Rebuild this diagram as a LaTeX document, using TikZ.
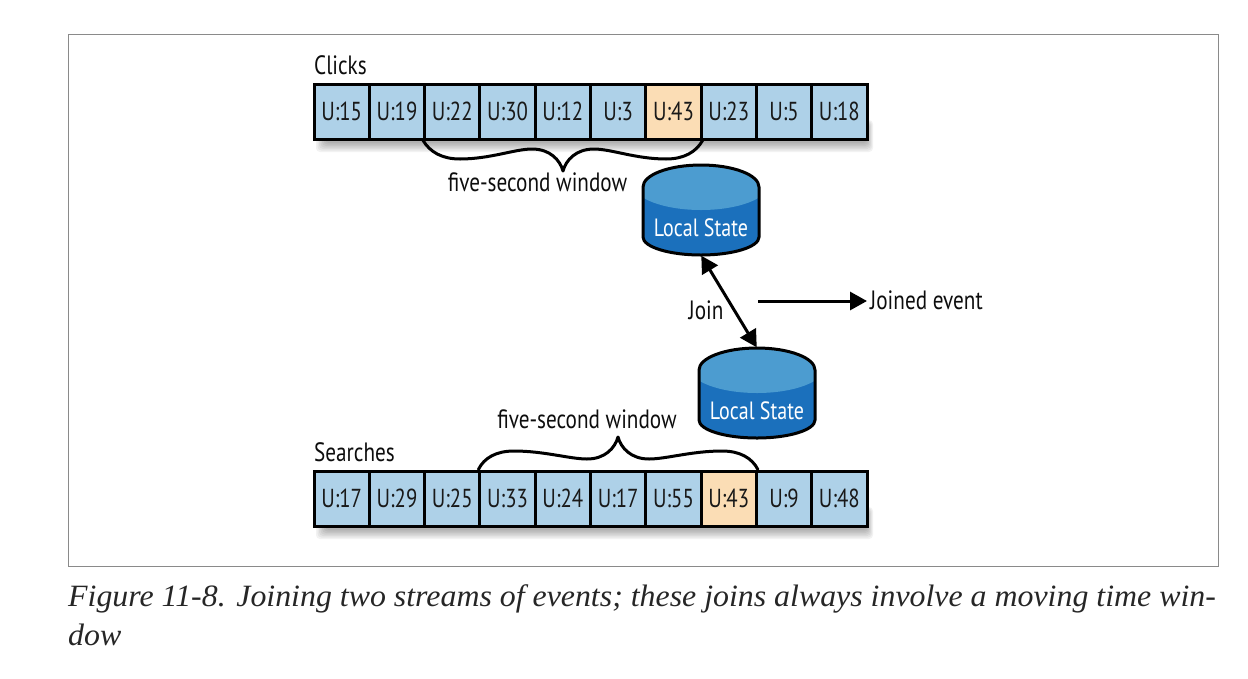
\documentclass[tikz,border=0pt]{standalone}
\usepackage{fontspec}
\setmainfont[FakeStretch=0.80]{PT Sans}
\newfontfamily\capfont[FakeStretch=1.028]{Liberation Serif}
\usetikzlibrary{arrows.meta}
\definecolor{cellblue}{HTML}{AED1E8}
\definecolor{cellorange}{HTML}{FBDDB5}
\definecolor{dbdark}{HTML}{1B70BC}
\definecolor{dblight}{HTML}{4C9CD0}
\definecolor{framegray}{HTML}{8A8A8A}
\tikzset{
  cell/.style={draw=black,line width=3pt,fill=cellblue,minimum width=55.3pt,minimum height=55pt,inner sep=0pt,
    font=\fontsize{26}{30}\selectfont,text=black!90},
  hot/.style={cell,fill=cellorange},
  label/.style={inner sep=0pt,font=\fontsize{26.5}{30}\selectfont,text=black!95},
  dbtext/.style={inner sep=0pt,anchor=base,text=white,font=\fontsize{25}{30}\selectfont},
  dbnode/.style={minimum width=116pt,minimum height=90pt,inner sep=0pt},
  brace/.style={line width=3pt,line cap=round,line join=round},
  arrowline/.style={line width=3pt,-{Triangle[length=17pt,width=18pt]}},
  twoarrow/.style={line width=3pt,{Triangle[length=17pt,width=18pt]}-{Triangle[length=17pt,width=18pt]},shorten <=0.5pt,shorten >=0.5pt},
  captext/.style={inner sep=0pt,anchor=base west,font=\capfont\itshape\fontsize{31}{36}\selectfont,text=black!85}
}
\newcommand{\softshadow}[4]{%
  \foreach \g in {0,1.5,...,9}{
    \fill[black,opacity=0.05,rounded corners=4pt] (#1+\g,#2+\g*0.5) rectangle (#3+6-\g*0.6,#4+13-\g);
  }}
\newcommand{\dbshape}[2]{%
  \begin{scope}[shift={(#1,#2)}]
    \fill[dbdark]
      (-58,-23) arc[start angle=180,end angle=360,x radius=58,y radius=22]
      -- (58,27) arc[start angle=0,end angle=180,x radius=58,y radius=18] -- cycle;
    \begin{scope}
      \clip (-58,-23) arc[start angle=180,end angle=360,x radius=58,y radius=22]
        -- (58,27) arc[start angle=0,end angle=180,x radius=58,y radius=18] -- cycle;
      \fill[dblight] (0,-26) ellipse[x radius=68,y radius=26];
    \end{scope}
    \draw[black,line width=3pt]
      (-58,-23) arc[start angle=180,end angle=360,x radius=58,y radius=22]
      -- (58,27) arc[start angle=0,end angle=180,x radius=58,y radius=18] -- cycle;
  \end{scope}}
\begin{document}
\begin{tikzpicture}[x=1pt,y=-1pt]
\useasboundingbox (0,0) rectangle (1248,678);
\draw[framegray,line width=0.8pt] (68,34) rectangle (1218,566);
\softshadow{316}{120}{867}{139}
\softshadow{316}{507}{867}{526}
% top stream
\foreach \i/\t/\st in {1/15/cell,2/19/cell,3/22/cell,4/30/cell,5/12/cell,6/3/cell,7/43/hot,8/23/cell,9/5/cell,10/18/cell}{
  \node[\st] (c\i) at ({314+55.3*(\i-0.5)},111.5) {U:\t};
}
% bottom stream
\foreach \i/\t/\st in {1/17/cell,2/29/cell,3/25/cell,4/33/cell,5/24/cell,6/17/cell,7/55/cell,8/43/hot,9/9/cell,10/48/cell}{
  \node[\st] (s\i) at ({314+55.3*(\i-0.5)},498.5) {U:\t};
}
\node[label,anchor=base west] (clicks) at (314,74) {Clicks};
\node[label,anchor=base west] (searches) at (314,461) {Searches};
% braces
\coordinate (tiptop) at (563,171);
\coordinate (tipbot) at (618,437);
\draw[brace] (c3.south west) .. controls (430,152) and (442,159) .. (460,159)
  .. controls (490,159) and (515,149) .. (532,149) .. controls (550,149) and (560,160) .. (tiptop)
  .. controls (566,160) and (576,149) .. (594,149) .. controls (611,149) and (636,159) .. (666,159)
  .. controls (684,159) and (696,152) .. (c7.south east);
\draw[brace] (s4.north west) .. controls (484,458) and (496,451) .. (514,451)
  .. controls (544,451) and (570,459) .. (587,459) .. controls (605,459) and (615,448) .. (tipbot)
  .. controls (621,448) and (631,459) .. (649,459) .. controls (666,459) and (692,451) .. (722,451)
  .. controls (740,451) and (752,458) .. (s8.north east);
\node[label,anchor=base] (w1) at (537.5,191) {five-second window};
\node[label,anchor=base] (w2) at (587,428) {five-second window};
% cylinders
\dbshape{701}{210}
\dbshape{757}{393}
\node[dbnode] (db1) at (701,210) {};
\node[dbnode] (db2) at (757,393) {};
\node[dbtext] (db1t) at (701,236) {Local State};
\node[dbtext] (db2t) at (757,419) {Local State};
% arrows
\draw[twoarrow] (db1.south) -- (db2.north);
\node[label,anchor=base] (join) at (706,319) {Join};
\coordinate (jstart) at (758,301);
\node[label,anchor=base west] (joined) at (870,309.5) {Joined event};
\draw[arrowline] (jstart) -- ([xshift=-3pt]joined.west |- jstart);
% caption
\node[captext] (cap1) at (68,606) {Figure 11-8. Joining two streams of events; these joins always involve a moving time win-};
\node[captext] (cap2) at (68,645) {dow};
\end{tikzpicture}
\end{document}
